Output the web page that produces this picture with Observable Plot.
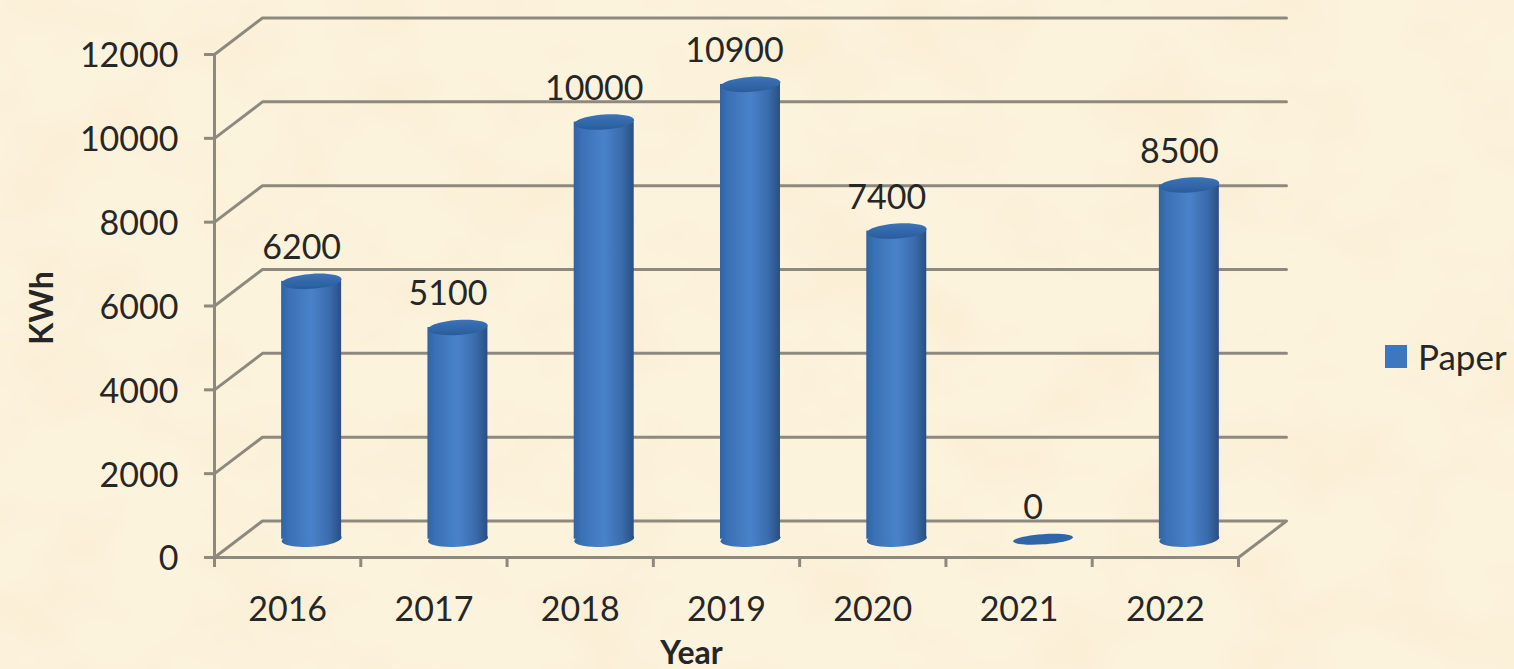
<!DOCTYPE html>
<html>
<head>
<meta charset="utf-8">
<script src="https://cdn.jsdelivr.net/npm/d3@7"></script>
<script src="https://cdn.jsdelivr.net/npm/@observablehq/plot@0.6"></script>
<style>
  html, body { margin: 0; padding: 0; background: #fcf2da; }
  #wrap { position: relative; width: 1514px; height: 669px; overflow: hidden; font-family: Lato, sans-serif; color: #262626; }
  #texture { position: absolute; left: 0; top: 0; width: 1514px; height: 669px; }
  #chart { position: absolute; left: 0; top: 0; }
  #chart svg { background: transparent; display: block; }
  #legend { position: absolute; left: 1385px; top: 336px; display: flex; align-items: center; gap: 11px; font-size: 35px; line-height: 40px; }
  #legend i { display: block; width: 22px; height: 23px; background: #3d77c0; }
</style>
</head>
<body>
<div id="wrap">
  <svg id="texture" xmlns="http://www.w3.org/2000/svg">
    <filter id="mottle" x="0" y="0" width="100%" height="100%">
      <feTurbulence type="fractalNoise" baseFrequency="0.009 0.012" numOctaves="3" seed="7"/>
      <feColorMatrix type="matrix" values="0 0 0 0 0.95  0 0 0 0 0.83  0 0 0 0 0.60  1.2 0 0 0 -0.52"/>
    </filter>
    <rect width="1514" height="669" fill="#fcf3dd"/>
    <rect width="1514" height="669" filter="url(#mottle)"/>
  </svg>
  <div id="chart"></div>
  <div id="legend"><i></i><span>Paper</span></div>
</div>
<script>
const categories = ["2016", "2017", "2018", "2019", "2020", "2021", "2022"];
const paper = [6200, 5100, 10000, 10900, 7400, 0, 8500];
const yTicks = [0, 2000, 4000, 6000, 8000, 10000, 12000];
const seriesName = "Paper";

// Oblique projection of the 3-D chart box, in data units
const depthX = 0.328;
const depthY = 870;
const barHalf = 0.205;

const rows = categories.map((c, i) => ({
  i, category: c, value: paper[i],
  cx: i + 0.5 + depthX / 2,
  base: depthY / 2,
  top: depthY / 2 + paper[i]
}));

const gridRows = yTicks.slice(1).flatMap(v => [
  {v, x: 0, y: v},
  {v, x: depthX, y: v + depthY},
  {v, x: categories.length + depthX, y: v + depthY}
]);
const n = categories.length;
const floorRows = [
  {x: 0, y: 12000}, {x: 0, y: 0}, {x: n, y: 0},
  {x: n + depthX, y: depthY}, {x: depthX, y: depthY}, {x: 0, y: 0}
];

// Slightly tilted ellipse used for the cylinder caps
function ellipseSymbol(ratio, tilt) {
  return {
    draw(ctx, size) {
      const rx = Math.sqrt(size / Math.PI), ry = rx * ratio, k = 0.5523;
      const c = Math.cos(tilt), s = Math.sin(tilt);
      const p = (a, b) => [a * c - b * s, a * s + b * c];
      ctx.moveTo(...p(rx, 0));
      ctx.bezierCurveTo(...p(rx, k * ry), ...p(k * rx, ry), ...p(0, ry));
      ctx.bezierCurveTo(...p(-k * rx, ry), ...p(-rx, k * ry), ...p(-rx, 0));
      ctx.bezierCurveTo(...p(-rx, -k * ry), ...p(-k * rx, -ry), ...p(0, -ry));
      ctx.bezierCurveTo(...p(k * rx, -ry), ...p(rx, -k * ry), ...p(rx, 0));
      ctx.closePath();
    }
  };
}
const cap = ellipseSymbol(0.25, -0.07);
const thinCap = ellipseSymbol(0.17, -0.07);

const defs = () => {
  const ns = "http://www.w3.org/2000/svg";
  const d = document.createElementNS(ns, "defs");
  d.innerHTML = `
    <linearGradient id="body" x1="0" x2="1" y1="0" y2="0">
      <stop offset="0" stop-color="#2f63a3"/>
      <stop offset="0.12" stop-color="#3a70b4"/>
      <stop offset="0.5" stop-color="#4a82ca"/>
      <stop offset="0.8" stop-color="#3a6cad"/>
      <stop offset="1" stop-color="#2a4f80"/>
    </linearGradient>
    <linearGradient id="lid" x1="0" x2="0" y1="0" y2="1">
      <stop offset="0" stop-color="#3d74b8"/>
      <stop offset="1" stop-color="#285c9c"/>
    </linearGradient>`;
  return d;
};

const grey = "#8d897f";
const withBar = rows.filter(d => d.value > 0);
const noBar = rows.filter(d => d.value === 0);

const plot = Plot.plot({
  width: 1514,
  height: 669,
  marginLeft: 214,
  marginRight: 276,
  marginTop: 54,
  marginBottom: 112,
  style: {fontFamily: "Lato, sans-serif", fontSize: "34px", color: "#262626", background: "transparent", overflow: "visible"},
  x: {type: "linear", domain: [0, n], label: null},
  y: {type: "linear", domain: [0, 12000], label: null},
  marks: [
    defs,
    Plot.line(gridRows, {x: "x", y: "y", z: "v", stroke: grey, strokeWidth: 3}),
    Plot.line(floorRows, {x: "x", y: "y", stroke: grey, strokeWidth: 3}),
    Plot.axisY({ticks: yTicks, tickSize: 10, tickFormat: () => "", stroke: grey, strokeWidth: 3, label: null}),
    Plot.axisY({ticks: yTicks, tickSize: 0, tickPadding: 36, dy: 2, label: null, tickFormat: d => String(d)}),
    Plot.axisX({ticks: d3.range(n + 1), tickFormat: () => "", tickSize: 10, stroke: grey, strokeWidth: 3, label: null}),
    Plot.axisX({ticks: categories.map((c, i) => i + 0.5), tickFormat: v => categories[Math.floor(v)], tickSize: 0, tickPadding: 39, label: null}),
    Plot.dot(withBar, {x: "cx", y: "base", r: 30, symbol: cap, fill: "url(#body)", stroke: null}),
    Plot.rect(withBar, {x1: d => d.cx - barHalf, x2: d => d.cx + barHalf, y1: "base", y2: "top", insetTop: 2, fill: "url(#body)"}),
    Plot.dot(withBar, {x: "cx", y: "top", r: 30, dy: 2, symbol: cap, fill: "url(#lid)", stroke: null}),
    Plot.dot(noBar, {x: "cx", y: "base", r: 30, symbol: thinCap, fill: "#2f66a8", stroke: null}),
    Plot.text(rows.filter(d => d.category !== "2019"), {x: "cx", y: "top", text: d => String(d.value), dx: -10, dy: -31}),
    Plot.text(rows.filter(d => d.category === "2019"), {x: "cx", y: "top", text: d => String(d.value), dx: -16, dy: -31}),
    Plot.text(["KWh"], {frameAnchor: "left", textAnchor: "middle", rotate: -90, dx: -172, dy: 2, fontWeight: "bold", fontSize: 32}),
    Plot.text(["Year"], {frameAnchor: "bottom", dx: -35, dy: 106, fontWeight: "bold", fontSize: 32})
  ]
});
document.getElementById("chart").append(plot);
document.querySelector("#legend span").textContent = seriesName;
</script>
</body>
</html>
